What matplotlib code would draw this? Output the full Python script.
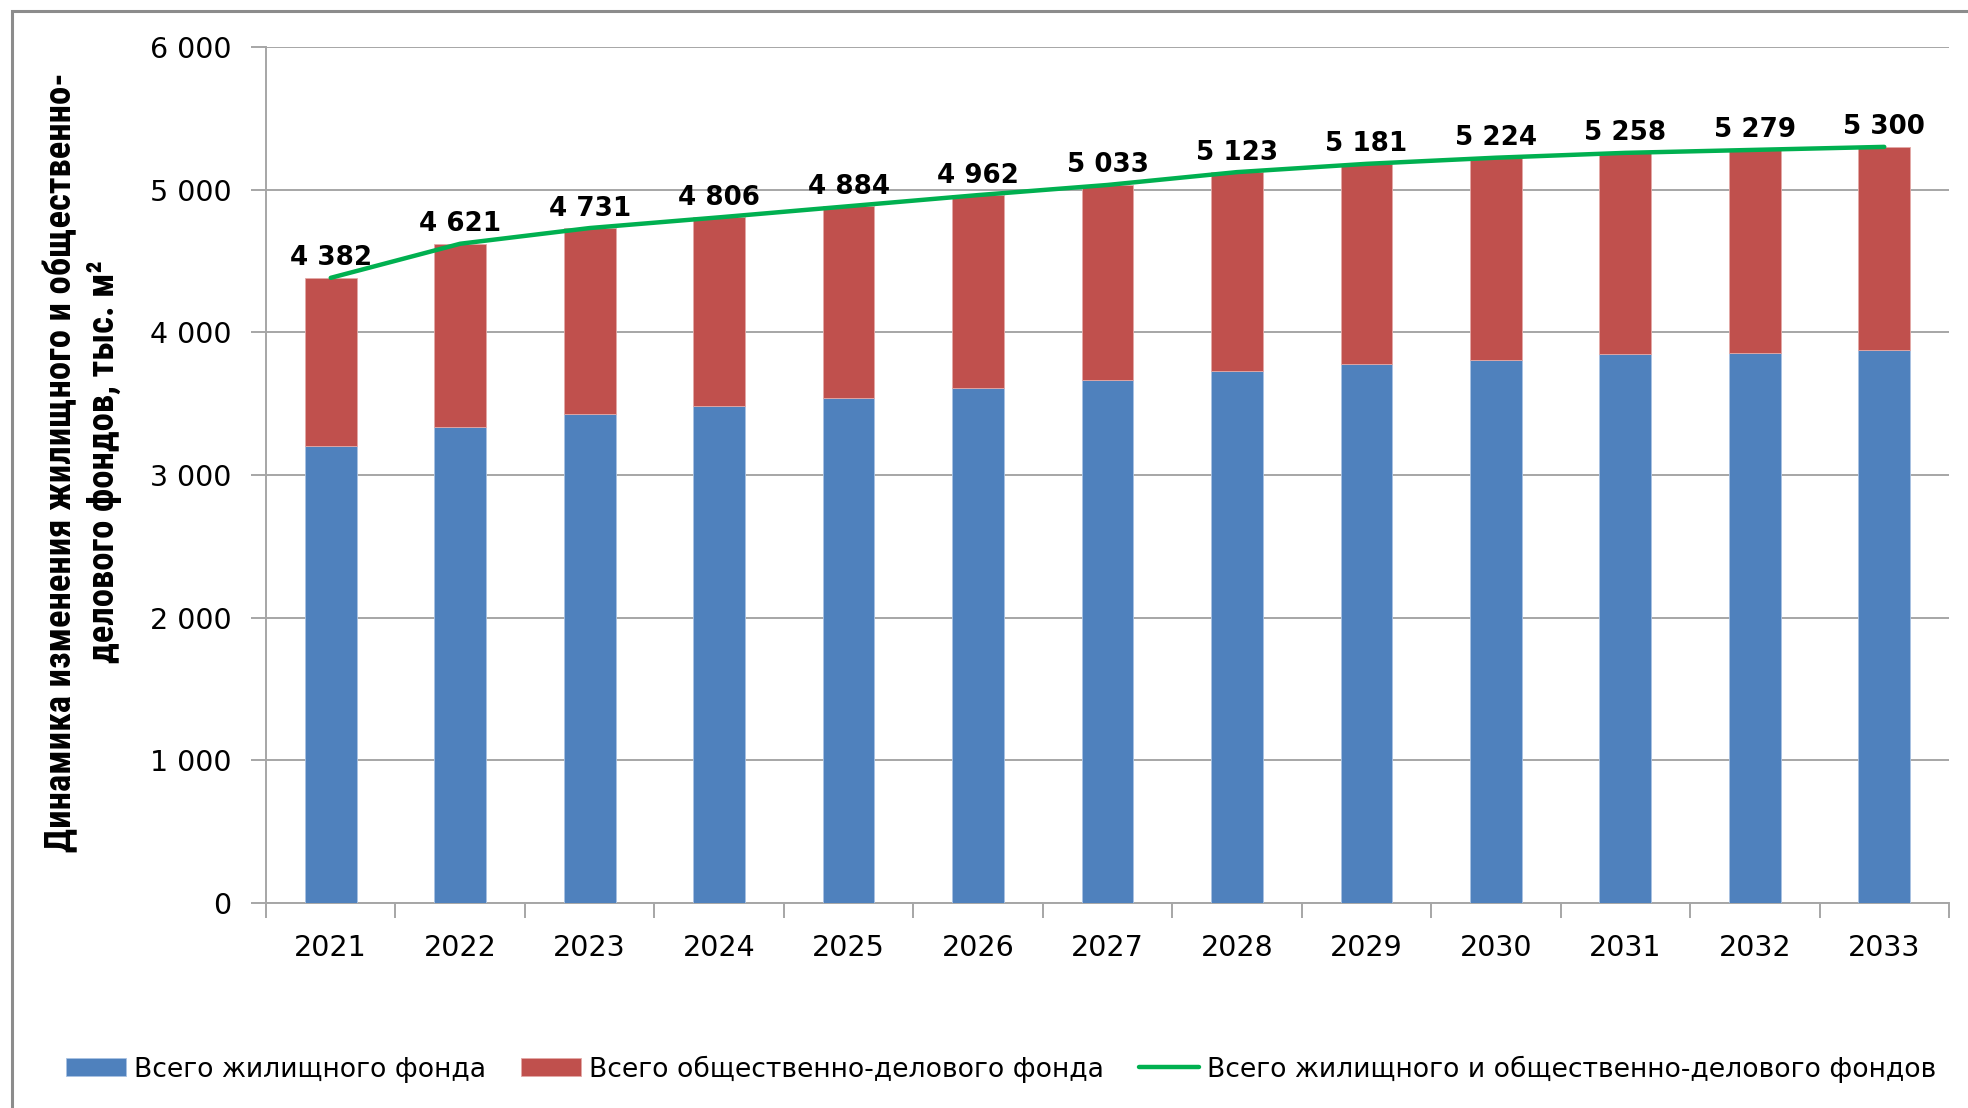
import matplotlib
matplotlib.use("Agg")
import matplotlib.pyplot as plt
from matplotlib.patches import Rectangle
from matplotlib import font_manager
import numpy as np

# Data: housing and public/business floor space, thousand m²
years = ["2021", "2022", "2023", "2024", "2025", "2026", "2027",
         "2028", "2029", "2030", "2031", "2032", "2033"]
housing = [3200, 3336, 3425, 3483, 3543, 3610, 3668,
           3729, 3779, 3807, 3847, 3856, 3877]
total = [4382, 4621, 4731, 4806, 4884, 4962, 5033,
         5123, 5181, 5224, 5258, 5279, 5300]
public_business = [t - h for t, h in zip(total, housing)]

y_ticks = [0, 1000, 2000, 3000, 4000, 5000, 6000]
y_tick_labels = ["0", "1 000", "2 000", "3 000", "4 000", "5 000", "6 000"]

legend_labels = ["Всего жилищного фонда",
                 "Всего общественно-делового фонда",
                 "Всего жилищного и общественно-делового фондов"]
y_title = "Динамика изменения жилищного и общественно-\nделового фондов, тыс. м²"

BLUE = "#4F81BD"
RED = "#C0504D"
GREEN = "#00B050"
GRID = "#A6A6A6"

plt.rcParams["font.family"] = ["DejaVu Sans"]

# pick a narrow face for the vertical title if one is available
installed = {f.name for f in font_manager.fontManager.ttflist}
narrow = [n for n in ["Liberation Sans Narrow", "Roboto Condensed",
                      "DejaVu Sans Condensed", "Roboto"] if n in installed]
title_family = narrow[0] if narrow else "DejaVu Sans"
title_size = {"Liberation Sans Narrow": 27.5, "Roboto Condensed": 26.5,
              "DejaVu Sans Condensed": 22.2, "Roboto": 23.3}.get(title_family, 18)

fig = plt.figure(figsize=(19.68, 11.08), dpi=100)
fig.patch.set_facecolor("white")

# outer chart frame
frame = Rectangle((12 / 1968, -0.05), 1.2, 1 - 11 / 1108 + 0.05,
                  transform=fig.transFigure, fill=False,
                  edgecolor="#8C8C8C", linewidth=2.2, zorder=0)
fig.patches.append(frame)

ax = fig.add_axes([266 / 1968, 205 / 1108, (1949 - 266) / 1968, (1061 - 205) / 1108])

x = np.arange(len(years))
bw = 0.4
b1 = ax.bar(x, housing, width=bw, color=BLUE, edgecolor="#A9C2E2",
            linewidth=0.6, zorder=3, label=legend_labels[0])
b2 = ax.bar(x, public_business, bottom=housing, width=bw, color=RED,
            edgecolor="#E3A9A7", linewidth=0.6, zorder=3, label=legend_labels[1])
ln, = ax.plot(x, total, color=GREEN, linewidth=3.2, zorder=4,
              solid_capstyle="round", solid_joinstyle="round",
              label=legend_labels[2])

for xi, t in zip(x, total):
    lbl = f"{t:,}".replace(",", " ")
    ax.annotate(lbl, (xi, t), xytext=(0, 9), textcoords="offset points",
                ha="center", va="baseline", fontsize=18.8, fontweight="bold",
                color="black", zorder=5)

ax.set_xlim(-0.5, len(years) - 0.5)
ax.set_ylim(0, 6000)
ax.set_yticks(y_ticks)
ax.set_yticklabels(y_tick_labels, fontsize=20.5)
ax.yaxis.grid(True, color=GRID, linewidth=1.4, zorder=0)
ax.set_axisbelow(True)

# category labels at centres, tick marks at category boundaries
ax.set_xticks(x)
ax.set_xticklabels(years, fontsize=20.5)
ax.tick_params(axis="x", which="major", length=0, pad=22)
ax.set_xticks(np.arange(-0.5, len(years)), minor=True)
ax.tick_params(axis="x", which="minor", length=11, width=1.4, color=GRID,
               direction="out")
ax.tick_params(axis="y", length=11, width=1.4, color=GRID, pad=14,
               direction="out")

for side in ["top", "right"]:
    ax.spines[side].set_visible(False)
for side in ["left", "bottom"]:
    ax.spines[side].set_color(GRID)
    ax.spines[side].set_linewidth(1.4)

fig.text(83 / 1968, 1 - 462 / 1108, y_title, rotation=90,
         ha="center", va="center", multialignment="center",
         fontsize=title_size, fontweight="bold", family=[title_family, "DejaVu Sans"],
         linespacing=1.25)

fig.legend(handles=[b1, b2, ln], labels=legend_labels, loc="center",
           bbox_to_anchor=(797.5 / 1568, 1 - 1069 / 1108), ncol=3, frameon=False,
           fontsize=19.2, handlelength=2.25, handleheight=0.65,
           handletextpad=0.3, columnspacing=1.32, borderaxespad=0)

fig.savefig("out.png", dpi=100, facecolor="white")
